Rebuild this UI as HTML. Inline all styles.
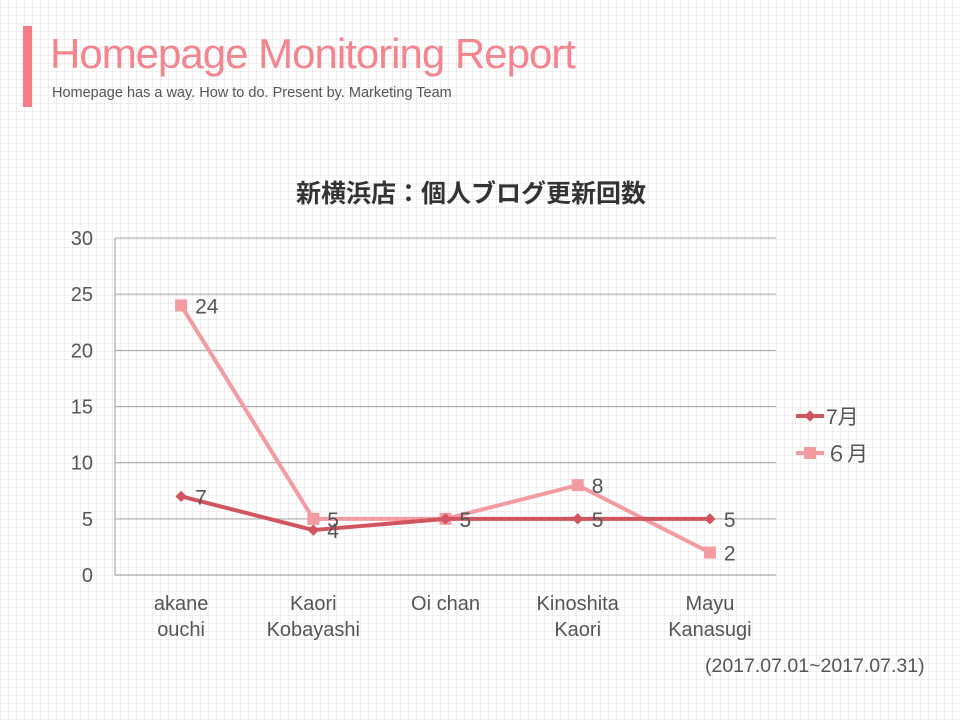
<!DOCTYPE html>
<html><head><meta charset="utf-8"><style>
body{margin:0}
#page{position:relative;width:960px;height:720px;overflow:hidden;background-color:#fff;
background-image:repeating-linear-gradient(0deg,rgba(205,205,205,.3) 0 1px,transparent 1px 8px),repeating-linear-gradient(90deg,rgba(205,205,205,.3) 0 1px,transparent 1px 8px);
font-family:"Liberation Sans","Noto Sans CJK JP",sans-serif}
</style></head><body>
<div id="page">
<div style="position:absolute;left:23px;top:26px;width:9px;height:81px;background:#f47c86"></div>
<div style="position:absolute;left:50px;top:30px;font-size:42px;color:#f4848e;letter-spacing:-1px;font-weight:300">Homepage Monitoring Report</div>
<div style="position:absolute;left:52px;top:85px;font-size:14.5px;color:#555;letter-spacing:0px">Homepage has a way. How to do. Present by. Marketing Team</div>
<svg id="chart" width="960" height="720" style="position:absolute;left:0;top:0"></svg>
<div style="position:absolute;left:705px;top:655px;font-size:19.5px;color:#555">(2017.07.01~2017.07.31)</div>
</div>
<script>
const categories=[["akane","ouchi"],["Kaori","Kobayashi"],["Oi chan"],["Kinoshita","Kaori"],["Mayu","Kanasugi"]];
const julyValues=[7,4,5,5,5];
const juneValues=[24,5,5,8,2];
const yTicks=[0,5,10,15,20,25,30];
const svg=document.getElementById('chart');
const NS='http://www.w3.org/2000/svg';
const L=115,R=776,T=238,B=575,yMax=30;
const y=v=>B-(v/yMax)*(B-T);
const x=i=>L+(R-L)/categories.length*(i+0.5);
function el(t,a,p){const e=document.createElementNS(NS,t);for(const k in a)e.setAttribute(k,a[k]);(p||svg).appendChild(e);return e;}
let t=el('text',{x:471,y:202,'text-anchor':'middle','font-size':25,'font-weight':'bold',fill:'#333','font-family':'"Noto Sans CJK JP",sans-serif'});
t.textContent='新横浜店：個人ブログ更新回数';
yTicks.forEach(v=>{
 const g=el('line',{x1:L,x2:R,y1:y(v),y2:y(v),stroke:v===0?'#999':'#aaa','stroke-width':1});
 
 const tl=el('text',{x:93,y:y(v)+7,'text-anchor':'end','font-size':20,fill:'#555'});
 tl.textContent=v;
});
const ax=el('line',{x1:L,x2:L,y1:T,y2:B,stroke:'#999'});

categories.forEach((c,i)=>{c.forEach((s,j)=>{const tx=el('text',{x:x(i),y:610+j*26,'text-anchor':'middle','font-size':20,fill:'#555'});
 tx.textContent=s;});});
function series(vals,color,marker,name){
 const pl=el('polyline',{points:vals.map((v,i)=>x(i)+','+y(v)).join(' '),fill:'none',stroke:color,'stroke-width':4,'stroke-linejoin':'round'});
 
 vals.forEach((v,i)=>{let m;
  if(marker==='diamond'){m=el('rect',{x:x(i)-4,y:y(v)-4,width:8,height:8,fill:color,transform:`rotate(45 ${x(i)} ${y(v)})`});}
  else{m=el('rect',{x:x(i)-6,y:y(v)-6,width:12,height:12,fill:color});}
  
  const lb=el('text',{x:x(i)+14,y:y(v)+8,'font-size':21,fill:'#555'});
  lb.textContent=v;
 });
}
series(juneValues,'#f29ca1','square','june');
series(julyValues,'#d0555f','diamond','july');
const lg=[['7月','#d0555f','diamond',416],['６月','#f29ca1','square',453]];
lg.forEach(([n,c,m,ly])=>{
 const ln=el('line',{x1:796,x2:824,y1:ly,y2:ly,stroke:c,'stroke-width':4});
 
 let mk=m==='diamond'?el('rect',{x:806,y:ly-4,width:8,height:8,fill:c,transform:`rotate(45 810 ${ly})`}):el('rect',{x:804,y:ly-6,width:12,height:12,fill:c});
 
 const tx=el('text',{x:826,y:ly+8,'font-size':21,fill:'#555'});
 tx.textContent=n;
});
</script>
</body></html>
